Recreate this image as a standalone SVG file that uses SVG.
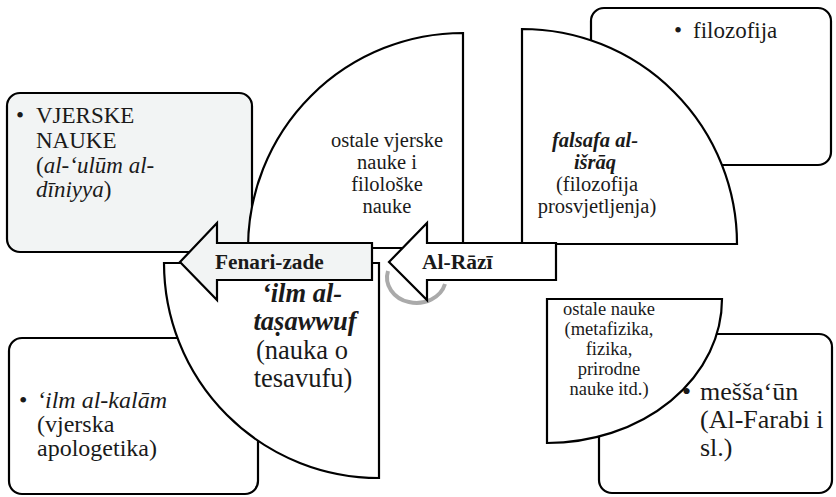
<svg xmlns="http://www.w3.org/2000/svg" width="836" height="497" viewBox="0 0 836 497">
<style>
  .box{stroke:#000;stroke-width:2.2;fill:#fff}
  .gray{fill:#f2f4f4}
  .q{stroke:#000;stroke-width:2.2;fill:#fff}
  .t{font-family:"Liberation Serif","Times New Roman",serif;fill:#1a1a1a}
  .c{text-anchor:middle}
  .b{font-weight:bold}
  .i{font-style:italic}
</style>
<rect width="836" height="497" fill="#fff"/>
<g id="box-vjerske">
  <rect class="box gray" x="7" y="93" width="245" height="159" rx="13"/>
  <text class="t" font-size="23"><tspan x="16" y="123">•</tspan><tspan x="36" y="123">VJERSKE</tspan><tspan x="36" y="148">NAUKE</tspan><tspan x="36" y="173">(<tspan class="i">al-‘ulūm al-</tspan></tspan><tspan x="36" y="197"><tspan class="i">dīniyya</tspan>)</tspan></text>
</g>
<g id="box-filozofija">
  <rect class="box" x="591" y="8" width="240" height="157" rx="13"/>
  <text class="t" font-size="23"><tspan x="674" y="38">•</tspan><tspan x="693" y="38">filozofija</tspan></text>
</g>
<g id="box-kalam">
  <rect class="box" x="9" y="338" width="249" height="156" rx="13"/>
  <text class="t" font-size="24"><tspan x="19" y="408">•</tspan><tspan x="37" y="408" class="i">‘ilm al-kalām</tspan><tspan x="37" y="432">(vjerska</tspan><tspan x="37" y="456">apologetika)</tspan></text>
</g>
<g id="box-messaun">
  <rect class="box" x="599" y="334" width="233" height="159" rx="13"/>
  <text class="t" font-size="26"><tspan x="682" y="400">•</tspan><tspan x="700" y="400">mešša‘ūn</tspan><tspan x="700" y="428">(Al-Farabi i</tspan><tspan x="700" y="456">sl.)</tspan></text>
</g>
<g id="q-vjerske">
  <path class="q" d="M463,248 L248,248 A215,215 0 0 1 463,33 Z"/>
  <text class="t c" font-size="20.5"><tspan x="387" y="147">ostale vjerske</tspan><tspan x="387" y="169">nauke i</tspan><tspan x="387" y="191">filološke</tspan><tspan x="387" y="213">nauke</tspan></text>
</g>
<g id="q-israq">
  <path class="q" d="M522,244 L522,29 A215,215 0 0 1 737,244 Z"/>
  <text class="t c" font-size="20.5"><tspan x="595" y="147" class="b i">falsafa al-</tspan><tspan x="595" y="169" class="b i">išrāq</tspan><tspan x="597" y="191">(filozofija</tspan><tspan x="597" y="213">prosvjetljenja)</tspan></text>
</g>
<g id="q-tasawwuf">
  <path class="q" d="M379,263 L164,263 A215,215 0 0 0 379,478 Z"/>
  <text class="t c" font-size="26.5"><tspan x="302" y="302" class="b i">‘ilm al-</tspan><tspan x="305" y="330" class="b i">taṣawwuf</tspan><tspan x="302" y="359">(nauka o</tspan><tspan x="303" y="387">tesavufu)</tspan></text>
</g>
<g id="q-ostale">
  <path class="q" d="M547,299 L722,299 A175,144 0 0 1 547,443 Z"/>
  <text class="t c" font-size="18.5"><tspan x="609" y="315">ostale nauke</tspan><tspan x="609" y="335">(metafizika,</tspan><tspan x="609" y="355">fizika,</tspan><tspan x="609" y="375">prirodne</tspan><tspan x="609" y="395">nauke itd.)</tspan></text>
</g>
<g id="connectors">
  <path d="M388,271 A29,25 0 0 0 445,284" fill="none" stroke="#aaa" stroke-width="4"/>
  <g id="arrow-razi">
    <path d="M389,262 L427,223 L427,243 L556,243 L556,280 L427,280 L427,300 Z" fill="#fff" stroke="#000" stroke-width="2.2" stroke-linejoin="miter"/>
    <text class="t b" font-size="21.5" x="422" y="269">Al-Rāzī</text>
  </g>
  <g id="arrow-fenari">
    <path d="M180,262 L217,223 L217,243 L372,243 L372,280 L217,280 L217,300 Z" fill="#f2f4f4" stroke="#000" stroke-width="2.2" stroke-linejoin="miter"/>
    <text class="t b" font-size="21.3" x="215" y="269">Fenari-zade</text>
  </g>
</g>
</svg>
